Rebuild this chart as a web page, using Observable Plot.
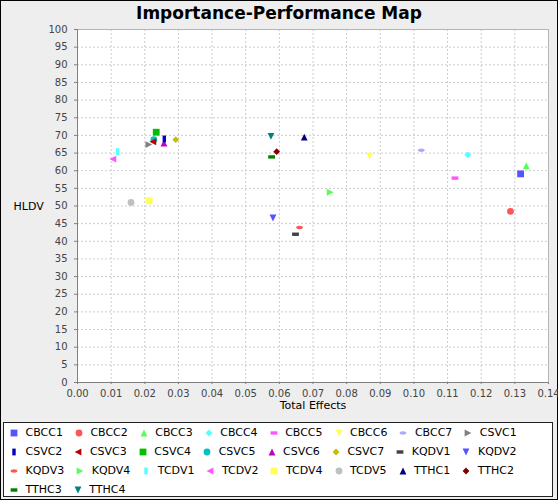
<!DOCTYPE html>
<html><head><meta charset="utf-8">
<script src="https://cdn.jsdelivr.net/npm/d3@7"></script>
<script src="https://cdn.jsdelivr.net/npm/@observablehq/plot@0.6"></script>
<style>
html,body{margin:0;padding:0;background:#fff;}
#wrap{position:relative;width:558px;height:500px;background:#eeeeee;box-shadow:inset 0 0 0 1px #000;overflow:hidden;font-family:"DejaVu Sans",sans-serif;}
#title{position:absolute;left:0;top:3px;width:558px;text-align:center;font-weight:bold;font-size:17px;line-height:20px;color:#000;}
#plot{position:absolute;left:0;top:24px;}
#legend{position:absolute;left:3px;top:422px;width:550px;height:75px;box-sizing:border-box;background:#fff;border:1px solid #222;padding-left:4px;}
.row{display:flex;height:19px;align-items:center;}
.item{display:flex;align-items:center;font-size:11px;color:#000;margin-right:10px;white-space:nowrap;}
.item svg{width:12px;height:12px;margin-right:5.5px;flex:none;}
</style>
</head><body>
<div id="wrap">
  <div id="title">Importance-Performance Map</div>
  <div id="plot"></div>
  <div id="legend"></div>
</div>
<script>
const seriesNames = ["CBCC1","CBCC2","CBCC3","CBCC4","CBCC5","CBCC6","CBCC7",
  "CSVC1","CSVC2","CSVC3","CSVC4","CSVC5","CSVC6","CSVC7",
  "KQDV1","KQDV2","KQDV3","KQDV4",
  "TCDV1","TCDV2","TCDV4","TCDV5",
  "TTHC1","TTHC2","TTHC3","TTHC4"];
const totalEffects = [0.1317,0.1287,0.1334,0.1160,0.1122,0.0868,0.1022,
  0.0212,0.0258,0.0224,0.0234,0.0227,0.0257,0.0292,
  0.0648,0.0581,0.0660,0.0751,
  0.0119,0.0105,0.0213,0.0159,
  0.0674,0.0592,0.0577,0.0575];
const hldv = [59.1,48.5,61.4,64.5,57.9,64.1,65.8,
  67.4,69.0,68.2,70.9,68.8,67.8,68.8,
  42.0,46.6,43.9,53.9,
  65.4,63.3,51.5,51.0,
  69.5,65.4,63.9,69.7];
const seriesColors = ["#5555ff","#ff5555","#55ff55","#55ffff","#ff55ff","#ffff55","#aaaaff",
  "#808080","#0000c0","#c00000","#00c000","#00c0c0","#c000c0","#c0c000",
  "#404040","#5555ff","#ff5555","#55ff55",
  "#55ffff","#ff55ff","#ffff55","#c0c0c0",
  "#000080","#800000","#008000","#008080"];
const shapeOrder = ["square","circle","triUp","diamond","hRect","triDown","ellipse","triRight","vRect","triLeft"];
const xTicks = [0,0.01,0.02,0.03,0.04,0.05,0.06,0.07,0.08,0.09,0.10,0.11,0.12,0.13,0.14];
const yTicks = [0,5,10,15,20,25,30,35,40,45,50,55,60,65,70,75,80,85,90,95,100];

const K = 0.5523;
const rad = s => Math.sqrt(s / Math.PI);
const shapes = {
  square: {draw(c, s) { const r = rad(s); c.rect(-r, -r, 2 * r, 2 * r); }},
  circle: {draw(c, s) { const r = rad(s); c.moveTo(r, 0); c.arc(0, 0, r, 0, 2 * Math.PI); }},
  triUp: {draw(c, s) { const r = rad(s); c.moveTo(0, -r); c.lineTo(r, r); c.lineTo(-r, r); c.closePath(); }},
  diamond: {draw(c, s) { const r = rad(s); c.moveTo(0, -r); c.lineTo(r, 0); c.lineTo(0, r); c.lineTo(-r, 0); c.closePath(); }},
  hRect: {draw(c, s) { const r = rad(s); c.rect(-r, -r / 2, 2 * r, r); }},
  triDown: {draw(c, s) { const r = rad(s); c.moveTo(-r, -r); c.lineTo(r, -r); c.lineTo(0, r); c.closePath(); }},
  ellipse: {draw(c, s) { const rx = rad(s), ry = rx / 2;
    c.moveTo(rx, 0);
    c.bezierCurveTo(rx, K * ry, K * rx, ry, 0, ry);
    c.bezierCurveTo(-K * rx, ry, -rx, K * ry, -rx, 0);
    c.bezierCurveTo(-rx, -K * ry, -K * rx, -ry, 0, -ry);
    c.bezierCurveTo(K * rx, -ry, rx, -K * ry, rx, 0);
    c.closePath(); }},
  triRight: {draw(c, s) { const r = rad(s); c.moveTo(-r, -r); c.lineTo(r, 0); c.lineTo(-r, r); c.closePath(); }},
  vRect: {draw(c, s) { const r = rad(s); c.rect(-r / 2, -r, r, 2 * r); }},
  triLeft: {draw(c, s) { const r = rad(s); c.moveTo(r, -r); c.lineTo(-r, 0); c.lineTo(r, r); c.closePath(); }}
};

const R = 3.4;
const rows = seriesNames.map((name, i) => ({
  name, x: totalEffects[i], y: hldv[i], color: seriesColors[i],
  shape: shapes[shapeOrder[i % shapeOrder.length]]
}));

const dots = rows.slice().reverse().map(d =>
  Plot.dot([d], {x: "x", y: "y", fill: d.color, stroke: "none", symbol: d.shape, r: R}));

const grid = {stroke: "#cccccc", strokeOpacity: 1, strokeDasharray: "2,2", strokeWidth: 1};

const chart = Plot.plot({
  width: 558, height: 396,
  marginTop: 5, marginBottom: 38, marginLeft: 77, marginRight: 10,
  style: {background: "transparent", overflow: "visible", fontFamily: "DejaVu Sans, sans-serif", fontSize: "10px"},
  x: {domain: [0, 0.14]},
  y: {domain: [0, 100]},
  marks: [
    Plot.frame({fill: "white", stroke: "none"}),
    Plot.gridX({ticks: xTicks, ...grid}),
    Plot.gridY({ticks: yTicks, ...grid}),
    Plot.frame({stroke: "#b4b4b4", strokeWidth: 1}),
    Plot.axisX({ticks: xTicks, tickFormat: d3.format(".2f"), tickSize: 2, tickPadding: 5, stroke: "#808080", fill: "#444", label: null}),
    Plot.axisY({ticks: yTicks, tickFormat: d3.format("d"), tickSize: 3, tickPadding: 7, stroke: "#808080", fill: "#444", label: null}),
    Plot.ruleX([0], {stroke: "#808080"}),
    Plot.ruleY([0], {stroke: "#808080"}),
    ...dots,
    Plot.text(["Total Effects"], {text: d => d, frameAnchor: "bottom", dy: 26, fontSize: 11, fill: "#000"}),
    Plot.text(["HLDV"], {text: d => d, frameAnchor: "left", dx: -64, textAnchor: "start", fontSize: 11, fill: "#000"})
  ]
});
document.getElementById("plot").appendChild(chart);

const legend = document.getElementById("legend");
for (let i = 0; i < rows.length; i += 8) {
  const row = document.createElement("div");
  row.className = "row";
  rows.slice(i, i + 8).forEach(d => {
    const item = document.createElement("div");
    item.className = "item";
    const path = d3.symbol(d.shape, R * R * Math.PI)();
    item.innerHTML = `<svg viewBox="0 0 12 12"><path transform="translate(6,6)" d="${path}" fill="${d.color}"/></svg><span>${d.name}</span>`;
    row.appendChild(item);
  });
  legend.appendChild(row);
}
</script>
</body></html>
